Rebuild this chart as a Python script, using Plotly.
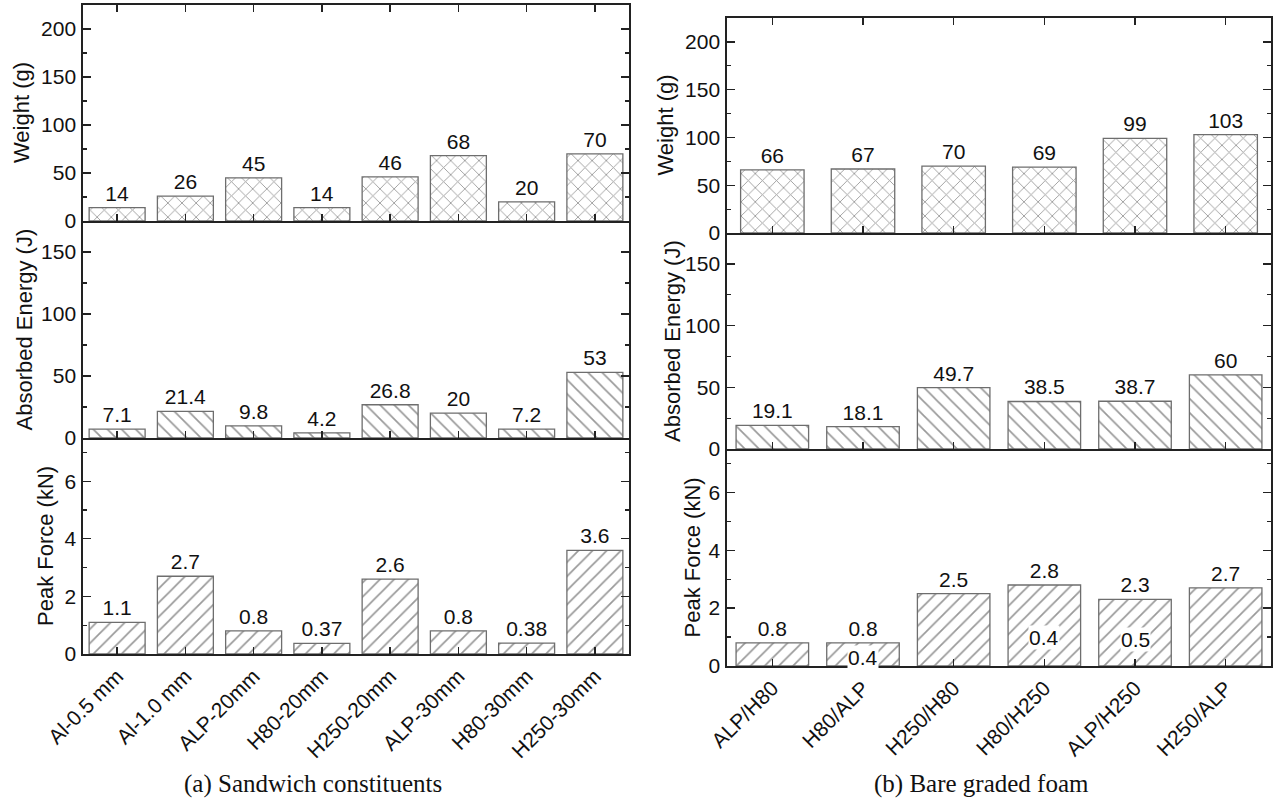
import plotly.graph_objects as go

# ---------------- data ----------------
left_categories = ["Al-0.5 mm", "Al-1.0 mm", "ALP-20mm", "H80-20mm",
                   "H250-20mm", "ALP-30mm", "H80-30mm", "H250-30mm"]
left_weight = [14, 26, 45, 14, 46, 68, 20, 70]
left_energy = [7.1, 21.4, 9.8, 4.2, 26.8, 20, 7.2, 53]
left_peak = [1.1, 2.7, 0.8, 0.37, 2.6, 0.8, 0.38, 3.6]

right_categories = ["ALP/H80", "H80/ALP", "H250/H80", "H80/H250", "ALP/H250", "H250/ALP"]
right_weight = [66, 67, 70, 69, 99, 103]
right_energy = [19.1, 18.1, 49.7, 38.5, 38.7, 60]
right_peak = [0.8, 0.8, 2.5, 2.8, 2.3, 2.7]
# secondary peak values written inside the right-hand peak-force bars
right_peak_inner = ["", "0.4", "", "0.4", "0.5", ""]
right_peak_inner_y = [None, 0.31, None, 0.97, 0.9, None]

y_titles = ["Weight (g)", "Absorbed Energy (J)", "Peak Force (kN)"]
captions = ["(a) Sandwich constituents", "(b) Bare graded foam"]

# ---------------- layout helpers ----------------
W, H = 1275, 805
SANS = "Liberation Sans, Arial, sans-serif"
SERIF = "Liberation Serif, Times New Roman, serif"


def fx(px):
    return px / W


def fy(py):
    return 1 - py / H


def lab(v):
    return f"{v:g}"


fig = go.Figure()

panels = [
    # cats, vals, shape, width, xdom(px), ydom(px top,bottom), yrange, dtick, minor, pos, title x
    (left_categories, left_weight, "x", 0.82, (83, 629), (5, 221), 225, 50, 25, "top", 21),
    (left_categories, left_energy, "\\", 0.82, (83, 629), (221, 438), 175, 50, 25, "mid", 24),
    (left_categories, left_peak, "/", 0.82, (83, 629), (438, 654), 7.5, 2, 1, "bottom", 45),
    (right_categories, right_weight, "x", 0.70, (727, 1271), (18, 233), 225, 50, 25, "top", 665),
    (right_categories, right_energy, "\\", 0.80, (727, 1271), (233, 449), 175, 50, 25, "mid", 673),
    (right_categories, right_peak, "/", 0.80, (727, 1271), (449, 666), 7.5, 2, 1, "bottom", 692),
]

annotations = []
for i, (cats, vals, shape, bw, xd, yd, ymax, dt, mdt, pos, tx) in enumerate(panels):
    k = i + 1
    xname = "x" if k == 1 else f"x{k}"
    yname = "y" if k == 1 else f"y{k}"
    fig.add_trace(go.Bar(
        x=cats, y=vals, xaxis=xname, yaxis=yname, width=bw,
        marker=dict(color="white",
                    line=dict(color="#6e6e6e", width=1.3),
                    pattern=dict(shape=shape, fgcolor="#333333", bgcolor="white",
                                 size=10, solidity=0.17)),
        text=[lab(v) for v in vals], textposition="outside",
        textfont=dict(size=21, color="#111", family=SANS),
        constraintext="none", cliponaxis=False, showlegend=False,
    ))
    xa = dict(domain=[fx(xd[0]), fx(xd[1])], anchor=yname, type="category",
              range=[-0.5, len(cats) - 0.5], showline=True, linecolor="#222",
              linewidth=1.7, ticks="inside", ticklen=7, tickwidth=1.4, tickcolor="#222",
              mirror="ticks" if pos == "top" else False,
              showticklabels=(pos == "bottom"), tickangle=-45,
              tickfont=dict(size=21, color="#111", family=SANS),
              showgrid=False, zeroline=False, fixedrange=True, automargin=False)
    ya = dict(domain=[fy(yd[1]), fy(yd[0])], anchor=xname, range=[0, ymax],
              dtick=dt, tick0=0, showline=True, linecolor="#222", linewidth=1.7,
              ticks="inside", ticklen=8, tickwidth=1.4, tickcolor="#222", mirror="ticks",
              minor=dict(ticks="inside", ticklen=4, dtick=mdt, tick0=0, tickcolor="#222",
                         tickwidth=1.2, showgrid=False),
              tickfont=dict(size=21, color="#111", family=SANS),
              showgrid=False, zeroline=False, fixedrange=True, ticklabelstandoff=1,
              automargin=False)
    fig.layout[("xaxis" if k == 1 else f"xaxis{k}")] = xa
    fig.layout[("yaxis" if k == 1 else f"yaxis{k}")] = ya
    annotations.append(dict(
        text=y_titles[i % 3], xref="paper", yref="paper",
        x=fx(tx), y=fy((yd[0] + yd[1]) / 2), textangle=-90,
        showarrow=False, font=dict(size=22, color="#111", family=SANS),
        xanchor="center", yanchor="middle"))

# inner labels in the right-hand peak-force bars
for cat, t, yv in zip(right_categories, right_peak_inner, right_peak_inner_y):
    if t:
        annotations.append(dict(
            text=t, x=cat, y=yv, xref="x6", yref="y6", showarrow=False,
            font=dict(size=21, color="#111", family=SANS),
            bgcolor="white", borderpad=0, xanchor="center", yanchor="middle"))

annotations.append(dict(text=captions[0], xref="paper", yref="paper",
                        x=fx(313), y=fy(784), showarrow=False,
                        xanchor="center", yanchor="middle",
                        font=dict(size=25, color="#111", family=SERIF)))
annotations.append(dict(text=captions[1], xref="paper", yref="paper",
                        x=fx(981), y=fy(784), showarrow=False,
                        xanchor="center", yanchor="middle",
                        font=dict(size=25, color="#111", family=SERIF)))

fig.update_layout(
    width=W, height=H, margin=dict(l=0, r=0, t=0, b=0, autoexpand=False),
    paper_bgcolor="white", plot_bgcolor="white",
    bargap=0.2, annotations=annotations,
    font=dict(family=SANS, color="#111"),
)

fig.write_html("out.html", config={"displayModeBar": False, "staticPlot": True},
               post_script="document.body.style.margin='0';document.body.style.overflow='hidden';")
